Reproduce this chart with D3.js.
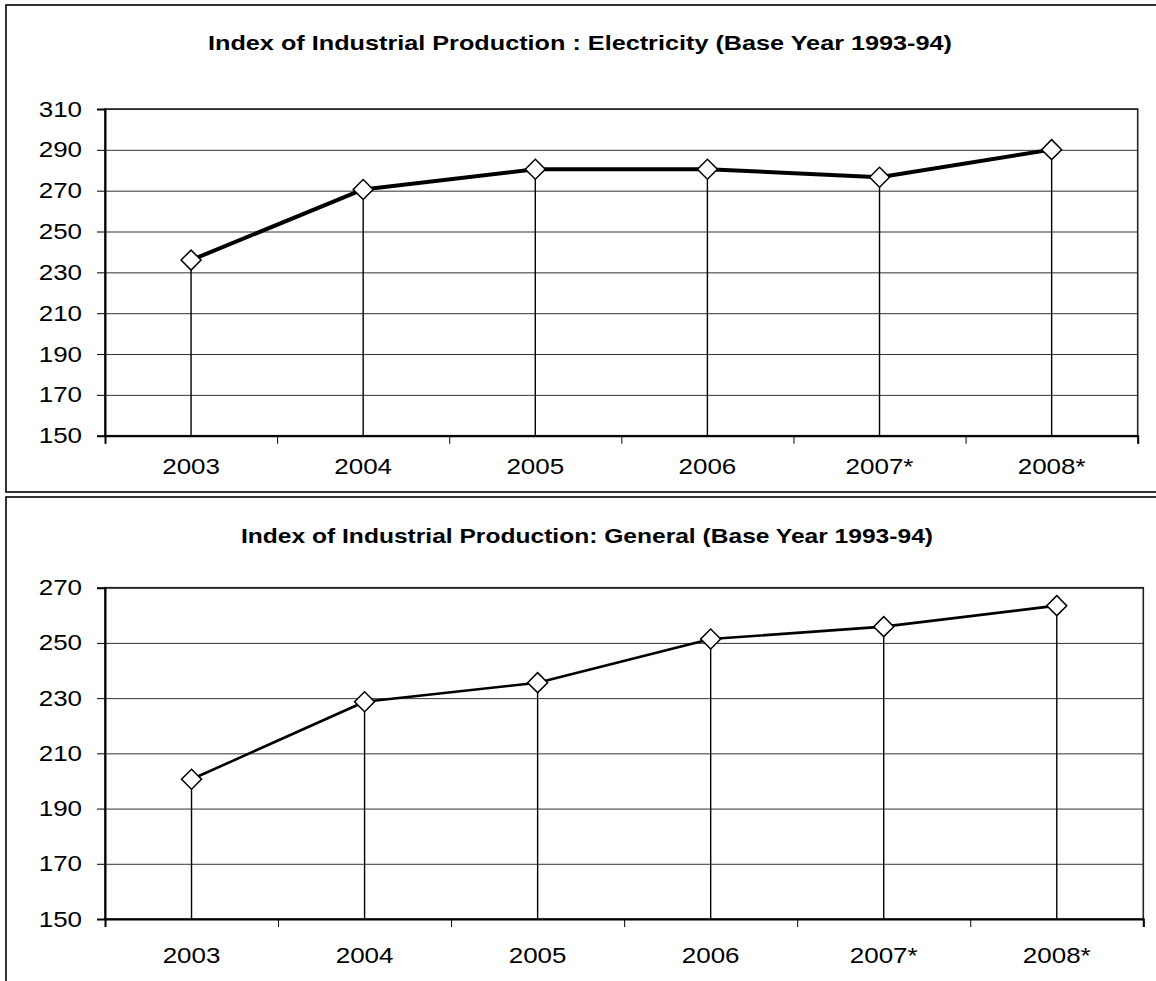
<!DOCTYPE html>
<html>
<head>
<meta charset="utf-8">
<script src="https://cdn.jsdelivr.net/npm/d3@7"></script>
<style>
  html, body { margin: 0; padding: 0; background: #fff; }
  svg { display: block; }
  text { font-family: "Liberation Sans", Arial, sans-serif; fill: #000; }
</style>
</head>
<body>
<svg id="chart" width="1156" height="981"></svg>
<script>
// ---- data ----
const categories = ["2003", "2004", "2005", "2006", "2007*", "2008*"];
const electricityValues = [236, 270.6, 280.5, 280.5, 276.6, 290.1];
const generalValues = [200.6, 228.7, 235.6, 251.4, 255.9, 263.5];
const electricityTicks = [150, 170, 190, 210, 230, 250, 270, 290, 310];
const generalTicks = [150, 170, 190, 210, 230, 250, 270];
const electricityTitle = "Index of Industrial Production : Electricity (Base Year 1993-94)";
const generalTitle = "Index of Industrial Production: General (Base Year 1993-94)";

const svg = d3.select("#chart");
const SX = 1.18;      // horizontal stretch of the labels
const FONT = "Liberation Sans, Arial, sans-serif";

function drawPanel(opts) {
  const { frame, plot, values, ticks, title, titleY, lineWidth, labelDy } = opts;
  const g = svg.append("g");

  // outer frame
  g.append("rect")
    .attr("x", frame.x).attr("y", frame.y)
    .attr("width", frame.w).attr("height", frame.h)
    .attr("fill", "#fff").attr("stroke", "#000").attr("stroke-width", 1.6);

  // title
  g.append("text")
    .attr("x", opts.titleX0).attr("y", titleY)
    .attr("text-anchor", "start")
    .attr("font-weight", "bold")
    .attr("font-size", 21)
    .attr("textLength", opts.titleW)
    .attr("lengthAdjust", "spacingAndGlyphs")
    .text(title);

  const x = d3.scaleBand().domain(categories).range([plot.left, plot.right]);
  const xLin = d3.scaleLinear().domain([0, categories.length]).range([plot.left, plot.right]);
  const y = d3.scaleLinear().domain([ticks[0], ticks[ticks.length - 1]]).range([plot.bottom, plot.top]);

  // gridlines
  g.append("g")
    .attr("transform", `translate(${plot.left},0)`)
    .call(d3.axisLeft(y).tickValues(ticks).tickSize(-(plot.right - plot.left)).tickFormat(""))
    .call(s => s.select(".domain").remove())
    .call(s => s.selectAll("line").attr("stroke", "#333").attr("stroke-width", 1));

  // plot border
  g.append("rect")
    .attr("x", plot.left).attr("y", plot.top)
    .attr("width", plot.right - plot.left).attr("height", plot.bottom - plot.top)
    .attr("fill", "none").attr("stroke", "#222").attr("stroke-width", 1.6);

  // y axis
  g.append("g")
    .attr("transform", `translate(${plot.left},0)`)
    .call(d3.axisLeft(y).tickValues(ticks).tickSize(8).tickPadding(15).tickFormat(d3.format("d")))
    .call(s => s.select(".domain").attr("stroke", "#000").attr("stroke-width", 2))
    .call(s => s.selectAll(".tick line").attr("stroke", "#000").attr("stroke-width", 1))
    .call(s => s.selectAll("text")
      .attr("font-size", 22).attr("font-family", FONT)
      .attr("x", -23 / SX)
      .attr("transform", `scale(${SX},1)`));

  // drop lines
  g.append("g").selectAll("line")
    .data(values)
    .join("line")
    .attr("x1", (d, i) => x(categories[i]) + x.bandwidth() / 2)
    .attr("x2", (d, i) => x(categories[i]) + x.bandwidth() / 2)
    .attr("y1", d => y(d))
    .attr("y2", plot.bottom)
    .attr("stroke", "#000").attr("stroke-width", 1.4);

  // x axis ticks at category boundaries
  g.append("g")
    .attr("transform", `translate(0,${plot.bottom})`)
    .call(d3.axisBottom(xLin).tickValues(d3.range(categories.length + 1)).tickSize(8).tickFormat(""))
    .call(s => s.select(".domain").attr("stroke", "#000").attr("stroke-width", 2))
    .call(s => s.selectAll(".tick line").attr("stroke", "#000").attr("stroke-width", 1));

  // x labels
  g.append("g")
    .attr("transform", `translate(0,${plot.bottom})`)
    .call(d3.axisBottom(x).tickSize(0).tickPadding(labelDy))
    .call(s => s.select(".domain").remove())
    .call(s => s.selectAll("text")
      .attr("font-size", 22).attr("font-family", FONT)
      .attr("transform", `scale(${SX},1)`));

  // line
  const line = d3.line()
    .x((d, i) => x(categories[i]) + x.bandwidth() / 2)
    .y(d => y(d));
  g.append("path")
    .datum(values)
    .attr("d", line)
    .attr("fill", "none")
    .attr("stroke", "#000")
    .attr("stroke-width", lineWidth)
    .attr("stroke-linejoin", "round");

  // diamond markers
  const diamond = d3.symbol().type(d3.symbolSquare).size(200);
  g.append("g").selectAll("path")
    .data(values)
    .join("path")
    .attr("d", diamond)
    .attr("transform", (d, i) => `translate(${x(categories[i]) + x.bandwidth() / 2},${y(d)}) rotate(45)`)
    .attr("fill", "#fff")
    .attr("stroke", "#000")
    .attr("stroke-width", 1.5);
}

drawPanel({
  frame: { x: 6, y: 5, w: 1170, h: 487 },
  plot: { left: 105, right: 1137.7, top: 109, bottom: 435.7 },
  values: electricityValues,
  ticks: electricityTicks,
  title: electricityTitle,
  titleX0: 208, titleW: 744, titleY: 50,
  lineWidth: 4,
  labelDy: 23
});

drawPanel({
  frame: { x: 6, y: 497, w: 1170, h: 500 },
  plot: { left: 105, right: 1143.3, top: 587.7, bottom: 919 },
  values: generalValues,
  ticks: generalTicks,
  title: generalTitle,
  titleX0: 241, titleW: 692, titleY: 543,
  lineWidth: 2.6,
  labelDy: 28
});
</script>
</body>
</html>
